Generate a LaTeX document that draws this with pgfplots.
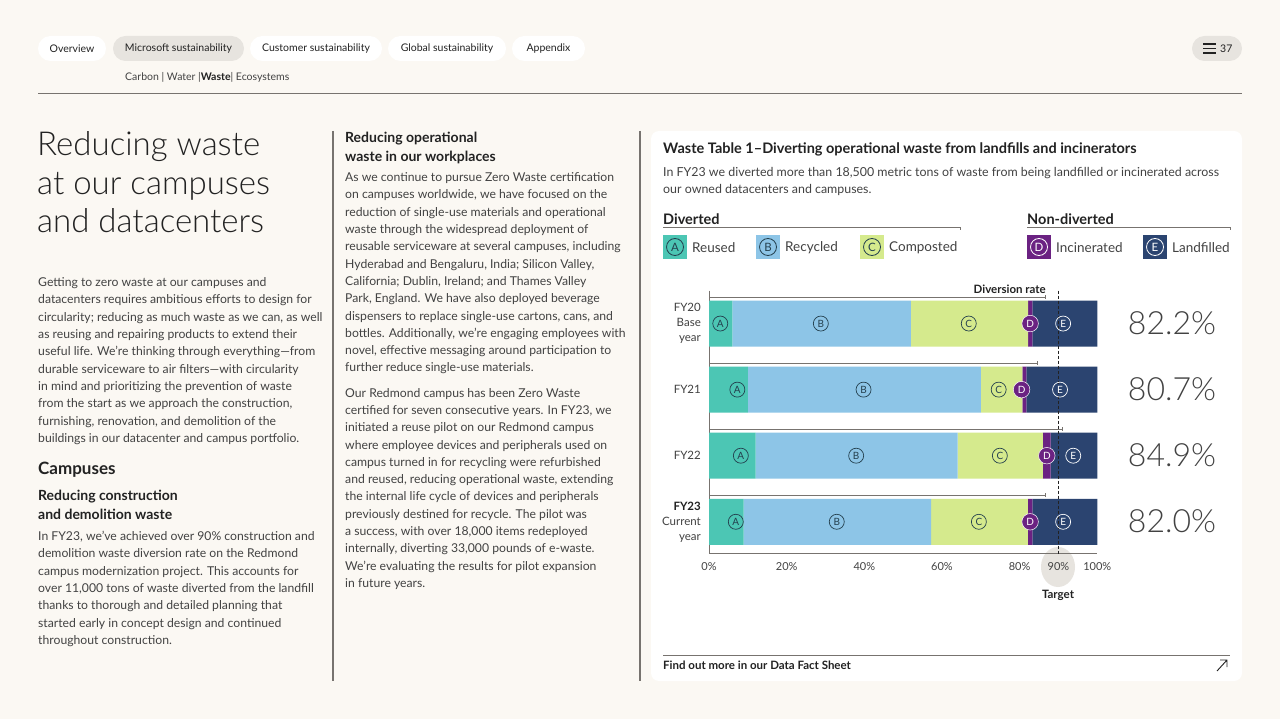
\documentclass[border=0pt]{standalone}
\usepackage{pgfplots}
\pgfplotsset{compat=1.18}
\usepackage{pgfplotstable}
\usepackage{fontspec}
\setmainfont{Lato}
\newfontfamily\lightfont{Lato Light}
\definecolor{bgc}{HTML}{FBF8F3}
\definecolor{pill}{HTML}{E7E4DF}
\definecolor{txt}{HTML}{424242}
\definecolor{dark}{HTML}{222222}
\definecolor{rule}{HTML}{77736F}
\definecolor{cA}{HTML}{4CC6B4}
\definecolor{cB}{HTML}{8DC5E7}
\definecolor{cC}{HTML}{D5EA8D}
\definecolor{cD}{HTML}{6B2282}
\definecolor{cE}{HTML}{2B4470}
\definecolor{lbl}{HTML}{24404E}
\newcommand\navf{\fontsize{10.5}{12}\selectfont}
\newcommand\bodyf{\fontsize{12.2}{17.3}\selectfont}
\newcommand\subf{\fontsize{14}{19}\selectfont\bfseries}

\pgfplotstableread{
year A B C D E
0 6.0 46.0 30.2 1.1 16.7
1 10.0 60.0 10.7 1.0 18.3
2 12.0 52.0 22.0 2.0 12.0
3 8.9 48.3 24.9 1.2 16.7
}\waste

\begin{document}
\begin{tikzpicture}
\begin{scope}[x=1pt,y=-1pt]
\fill[bgc] (0,0) rectangle (1280,719);
% navigation
\fill[white, rounded corners=12.5pt] (38,36) rectangle (106,61);
\node[font=\navf, text=dark] at (72,48.5) {Overview};
\fill[pill, rounded corners=12.5pt] (113,36) rectangle (244,61);
\node[font=\navf, text=dark] at (178.5,48.5) {Microsoft sustainability};
\fill[white, rounded corners=12.5pt] (250,36) rectangle (382,61);
\node[font=\navf, text=dark] at (316,48.5) {Customer sustainability};
\fill[white, rounded corners=12.5pt] (388,36) rectangle (506,61);
\node[font=\navf, text=dark] at (447,48.5) {Global sustainability};
\fill[white, rounded corners=12.5pt] (512,36) rectangle (585,61);
\node[font=\navf, text=dark] at (548.5,48.5) {Appendix};
\fill[pill, rounded corners=12.5pt] (1192,36) rectangle (1242,61);
\draw[dark, line width=1.8pt] (1203,44)--(1216,44) (1203,48.5)--(1216,48.5) (1203,53)--(1216,53);
\node[font=\navf, text=dark, anchor=west, inner sep=0] at (1220,49) {37};
\node[font=\navf, text=txt, anchor=west, inner sep=0] at (125,77.5) {Carbon | Water |\textbf{\color{dark}Waste}| Ecosystems};
\draw[rule, line width=1pt] (38,94) -- (1242,94);
% dividers
\draw[rule, line width=1.1pt] (333,131) -- (333,681);
\draw[rule, line width=1.1pt] (640,131) -- (640,681);
% title
\foreach \t/\yy in {Reducing waste/156, at our campuses/195, and datacenters/233}
  \node[font={\lightfont\fontsize{33}{38}\selectfont}, text=dark, anchor=base west, inner sep=0] at (37,\yy) {\t};
% left column
\node[font=\bodyf, text=txt, anchor=north west, inner sep=0, align=left] at (38,277.5) {Getting to zero waste at our campuses and\\
datacenters requires ambitious efforts to design for\\
circularity; reducing as much waste as we can, as well\\
as reusing and repairing products to extend their\\
useful life. We’re thinking through everything—from\\
durable serviceware to air filters—with circularity\\
in mind and prioritizing the prevention of waste\\
from the start as we approach the construction,\\
furnishing, renovation, and demolition of the\\
buildings in our datacenter and campus portfolio.};
\node[font=\fontsize{17}{20}\selectfont\bfseries, text=dark, anchor=west, inner sep=0] at (38,469.5) {Campuses};
\node[font=\subf, text=dark, anchor=north west, inner sep=0, align=left] at (38,490) {Reducing construction\\and demolition waste};
\node[font=\bodyf, text=txt, anchor=north west, inner sep=0, align=left] at (38,531) {In FY23, we’ve achieved over 90\% construction and\\
demolition waste diversion rate on the Redmond\\
campus modernization project. This accounts for\\
over 11,000 tons of waste diverted from the landfill\\
thanks to thorough and detailed planning that\\
started early in concept design and continued\\
throughout construction.};
% middle column
\node[font=\subf, text=dark, anchor=north west, inner sep=0, align=left] at (345,132) {Reducing operational\\waste in our workplaces};
\node[font=\bodyf, text=txt, anchor=north west, inner sep=0, align=left] at (345,172.5) {As we continue to pursue Zero Waste certification\\
on campuses worldwide, we have focused on the\\
reduction of single-use materials and operational\\
waste through the widespread deployment of\\
reusable serviceware at several campuses, including\\
Hyderabad and Bengaluru, India; Silicon Valley,\\
California; Dublin, Ireland; and Thames Valley\\
Park, England. We have also deployed beverage\\
dispensers to replace single-use cartons, cans, and\\
bottles. Additionally, we’re engaging employees with\\
novel, effective messaging around participation to\\
further reduce single-use materials.};
\node[font=\bodyf, text=txt, anchor=north west, inner sep=0, align=left] at (345,388) {Our Redmond campus has been Zero Waste\\
certified for seven consecutive years. In FY23, we\\
initiated a reuse pilot on our Redmond campus\\
where employee devices and peripherals used on\\
campus turned in for recycling were refurbished\\
and reused, reducing operational waste, extending\\
the internal life cycle of devices and peripherals\\
previously destined for recycle. The pilot was\\
a success, with over 18,000 items redeployed\\
internally, diverting 33,000 pounds of e-waste.\\
We’re evaluating the results for pilot expansion\\
in future years.};
% chart panel
\fill[white, rounded corners=8pt] (651,131) rectangle (1242,681);
\node[font=\fontsize{14.5}{17}\selectfont\bfseries, text=dark, anchor=west, inner sep=0] at (663,149.5) {Waste Table 1–Diverting operational waste from landfills and incinerators};
\node[font=\fontsize{12.4}{17}\selectfont, text=txt, anchor=north west, inner sep=0, align=left] at (663,167) {In FY23 we diverted more than 18,500 metric tons of waste from being landfilled or incinerated across\\our owned datacenters and campuses.};
\node[font=\fontsize{14.5}{17}\selectfont\bfseries, text=dark, anchor=west, inner sep=0] at (663,219.5) {Diverted};
\node[font=\fontsize{14.5}{17}\selectfont\bfseries, text=dark, anchor=west, inner sep=0] at (1027,219.5) {Non-diverted};
\draw[rule, line width=1pt] (663,228) -- (960,228) -- (960,230.5);
\draw[rule, line width=1pt] (1027,228) -- (1230,228) -- (1230,230.5);
% legend
\foreach \x/\c/\l/\n/\tc in {663/cA/A/Reused/lbl, 756/cB/B/Recycled/lbl, 860/cC/C/Composted/lbl, 1027/cD/D/Incinerated/white, 1143/cE/E/Landfilled/white}{
  \fill[\c] (\x,235) rectangle ++(24,24);
  \node[circle, draw=\tc, line width=0.8pt, inner sep=0, minimum size=17pt, text=\tc, font=\fontsize{11.5}{12}\selectfont] at (\x+12,247) {\l};
  \node[font=\fontsize{13.5}{15}\selectfont, text=txt, anchor=west, inner sep=0] at (\x+29,247.5) {\n};
}
% target highlight
\fill[pill] (1058,567) ellipse [x radius=17pt, y radius=20pt];
\node[font=\fontsize{11.5}{13}\selectfont\bfseries, text=dark] at (1058,595.5) {Target};
\node[font=\fontsize{11.5}{13}\selectfont\bfseries, text=dark, anchor=east, inner sep=0] at (1046,289.5) {Diversion rate};
% percentages
\foreach \v/\yy in {82.2\%/323, 80.7\%/389, 84.9\%/455, 82.0\%/521}
  \node[font={\lightfont\fontsize{32}{36}\selectfont}, text=txt] at (1172,\yy) {\v};
% footer
\draw[rule, line width=1pt] (663,655) -- (1230,655);
\node[font=\fontsize{11.5}{13}\selectfont\bfseries, text=dark, anchor=west, inner sep=0] at (663,665.5) {Find out more in our Data Fact Sheet};
\draw[dark, line width=0.9pt] (1217,671) -- (1227,660) (1220,660) -- (1227,660) -- (1227,667);
\end{scope}

\begin{axis}[at={(709pt,-553.5pt)}, anchor=south west, scale only axis,
  width=388.3pt, height=263pt, xmin=0, xmax=100, ymin=-0.5, ymax=3.48,
  y dir=reverse, xbar stacked, bar width=46pt,
  axis x line*=bottom, axis y line*=left,
  axis line style={draw=rule, line width=0.9pt, -},
  xtick={0,20,40,60,80,90,100},
  xticklabels={0\%,20\%,40\%,60\%,80\%,90\%,100\%},
  ytick={0,1,2,3},
  yticklabels={{FY20\\Base\\year},{FY21},{FY22},{\textbf{\color{dark}FY23}\\Current\\year}},
  yticklabel style={align=right, font=\fontsize{11.5}{15}\selectfont, text=txt, inner sep=0pt},
  xticklabel style={font=\fontsize{11}{13}\selectfont, text=txt, inner sep=0pt},
  yticklabel shift=8pt, xticklabel shift=9pt,
  major tick length=0pt]
\addplot[fill=cA, draw=none] table[x=A, y=year]{\waste};
\addplot[fill=cB, draw=none] table[x=B, y=year]{\waste};
\addplot[fill=cC, draw=none] table[x=C, y=year]{\waste};
\addplot[fill=cD, draw=none] table[x=D, y=year]{\waste};
\addplot[fill=cE, draw=none] table[x=E, y=year]{\waste};
\end{axis}

\begin{axis}[at={(709pt,-553.5pt)}, anchor=south west, scale only axis,
  width=388.3pt, height=263pt, xmin=0, xmax=100, ymin=-0.5, ymax=3.48,
  y dir=reverse, hide axis, clip=false]
% diversion-rate brackets
\addplot[rule, line width=1pt, mark=|, mark indices={2}, mark size=2pt] coordinates {(0,-0.40) (86.7,-0.40)};
\addplot[rule, line width=1pt, mark=|, mark indices={2}, mark size=2pt] coordinates {(0,0.60) (84.6,0.60)};
\addplot[rule, line width=1pt, mark=|, mark indices={2}, mark size=2pt] coordinates {(0,1.60) (91.0,1.60)};
\addplot[rule, line width=1pt, mark=|, mark indices={2}, mark size=2pt] coordinates {(0,2.60) (86.7,2.60)};
% target line
\addplot[dark, densely dashed, line width=0.8pt] coordinates {(90,-0.5) (90,3.48)};
% segment labels
\addplot[draw=none, mark=none, nodes near coords, point meta=explicit symbolic, nodes near coords align=center,
  every node near coord/.style={circle, draw=lbl, line width=0.7pt, inner sep=0pt, minimum size=15pt, text=lbl, font=\fontsize{10}{10}\selectfont}]
  coordinates {(2.9,0)[A] (28.8,0)[B] (66.9,0)[C]
  (7.3,1)[A] (39.8,1)[B] (74.6,1)[C]
  (8.2,2)[A] (37.9,2)[B] (74.9,2)[C]
  (6.9,3)[A] (32.9,3)[B] (69.5,3)[C]};
\addplot[draw=none, mark=none, nodes near coords, point meta=explicit symbolic, nodes near coords align=center,
  every node near coord/.style={circle, fill=cD, draw=white, line width=0.5pt, inner sep=0pt, minimum size=16.5pt, text=white, font=\fontsize{10}{10}\selectfont}]
  coordinates {(82.7,0)[D] (80.5,1)[D] (87.0,2)[D] (82.7,3)[D]};
\addplot[draw=none, mark=none, nodes near coords, point meta=explicit symbolic, nodes near coords align=center,
  every node near coord/.style={circle, draw=white, line width=0.7pt, inner sep=0pt, minimum size=15pt, text=white, font=\fontsize{10}{10}\selectfont}]
  coordinates {(91.2,0)[E] (90.4,1)[E] (93.8,2)[E] (91.2,3)[E]};
\end{axis}
\end{tikzpicture}
\end{document}
